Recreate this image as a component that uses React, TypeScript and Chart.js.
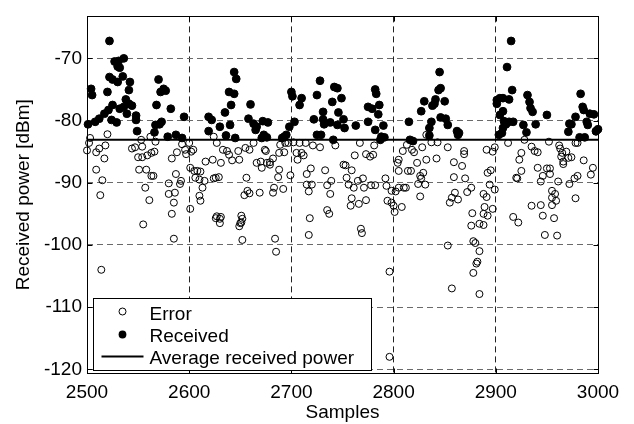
import { useEffect, useRef } from "react";
import { Chart, registerables } from "chart.js";

Chart.register(...registerables);

// ---- data ----
const receivedPoints: [number, number][] = [
  [2501,-80.6],[2504,-74.9],[2505,-75.9],[2508,-80.2],[2512,-79.7],[2517,-78.9],[2520,-75.4],[2521,-78.3],[2522,-67.2],[2522,-73.0],
  [2524,-79.9],[2525,-73.4],[2525,-77.5],[2527,-70.5],[2529,-80.3],[2530,-73.8],[2530,-71.3],[2531,-70.4],[2532,-71.5],[2532,-78.1],
  [2535,-72.9],[2536,-70.0],[2536,-77.8],[2538,-76.6],[2539,-78.9],[2541,-75.1],[2541,-77.3],[2542,-73.8],[2544,-77.6],[2548,-79.2],
  [2548,-79.9],[2549,-81.7],[2566,-81.9],[2567,-80.7],[2568,-77.5],[2570,-73.4],[2571,-80.6],[2572,-75.4],[2573,-80.2],[2575,-74.9],
  [2577,-75.2],[2579,-82.6],[2582,-78.1],[2587,-82.3],[2593,-82.8],[2595,-79.4],[2619,-79.4],[2619,-81.7],[2622,-79.9],[2630,-81.0],
  [2635,-78.7],[2636,-82.4],[2639,-75.4],[2640,-80.7],[2641,-77.5],[2644,-72.2],[2644,-75.7],[2645,-82.8],[2646,-73.3],[2658,-79.7],
  [2660,-77.4],[2663,-80.5],[2665,-81.5],[2666,-81.0],[2671,-82.8],[2672,-80.1],[2673,-82.3],[2676,-82.7],[2677,-80.3],[2691,-82.8],
  [2693,-82.6],[2695,-82.3],[2698,-81.0],[2700,-75.4],[2701,-76.1],[2703,-80.2],[2708,-77.5],[2710,-76.4],[2722,-79.8],[2725,-75.9],
  [2725,-82.3],[2728,-73.6],[2729,-82.3],[2731,-78.6],[2731,-79.8],[2732,-80.6],[2738,-80.3],[2740,-77.0],[2741,-83.1],[2742,-74.6],
  [2745,-74.8],[2745,-80.7],[2746,-78.7],[2749,-76.4],[2751,-79.8],[2752,-81.2],[2763,-80.8],[2775,-77.8],[2775,-80.2],[2779,-78.1],
  [2782,-75.0],[2782,-81.5],[2783,-75.7],[2785,-79.0],[2786,-77.5],[2787,-83.1],[2788,-82.6],[2790,-80.8],[2791,-82.7],[2815,-80.2],
  [2816,-83.1],[2819,-83.3],[2827,-78.5],[2830,-76.9],[2835,-81.2],[2835,-82.4],[2837,-80.2],[2838,-77.6],[2840,-77.3],[2841,-76.6],
  [2844,-75.1],[2845,-72.2],[2846,-74.8],[2846,-79.5],[2850,-76.9],[2851,-79.7],[2853,-80.7],[2862,-81.7],[2863,-82.3],[2864,-82.0],
  [2901,-76.7],[2901,-77.3],[2903,-82.3],[2904,-76.4],[2904,-79.1],[2906,-82.0],[2907,-76.4],[2907,-78.5],[2907,-81.2],[2908,-80.1],
  [2910,-80.6],[2911,-71.4],[2913,-76.6],[2913,-80.2],[2915,-67.2],[2916,-75.1],[2917,-80.2],[2927,-80.7],[2930,-81.9],[2931,-75.9],
  [2933,-77.0],[2934,-78.0],[2936,-78.6],[2939,-80.6],[2950,-79.1],[2971,-81.8],[2972,-80.5],[2974,-80.6],[2978,-79.4],[2982,-82.7],
  [2983,-75.7],[2985,-77.8],[2986,-78.3],[2987,-82.7],[2989,-80.2],[2990,-80.7],[2992,-78.9],[2996,-79.0],[2998,-81.7],[3000,-81.4],
];

const errorPoints: [number, number][] = [
  [2500,-84.8],[2502,-83.6],[2503,-82.8],[2509,-85.1],[2509,-87.9],[2512,-84.5],[2513,-92.0],[2514,-104.0],[2515,-89.6],[2517,-86.1],
  [2518,-84.0],[2520,-82.2],[2544,-84.5],[2547,-84.3],[2550,-85.9],[2551,-87.9],[2553,-83.1],[2554,-84.2],[2554,-85.9],[2555,-96.7],
  [2557,-90.8],[2558,-87.9],[2559,-85.6],[2561,-92.8],[2562,-82.6],[2563,-85.2],[2563,-88.9],[2565,-88.9],[2566,-85.0],[2567,-83.4],
  [2580,-90.1],[2580,-91.8],[2583,-86.1],[2583,-95.0],[2585,-93.2],[2585,-99.0],[2586,-91.6],[2587,-88.6],[2588,-85.1],[2591,-90.2],
  [2592,-89.7],[2593,-83.8],[2596,-84.7],[2597,-85.4],[2600,-83.6],[2601,-87.6],[2601,-94.2],[2602,-85.0],[2604,-84.7],[2605,-88.1],
  [2606,-89.2],[2608,-88.1],[2610,-89.5],[2610,-92.1],[2611,-88.2],[2611,-92.9],[2613,-90.8],[2615,-89.7],[2616,-86.6],[2623,-86.3],
  [2624,-82.6],[2624,-89.3],[2626,-95.7],[2626,-89.2],[2627,-83.6],[2627,-95.4],[2629,-89.1],[2630,-95.8],[2630,-96.5],[2631,-86.8],
  [2631,-95.5],[2633,-84.7],[2637,-84.9],[2639,-85.5],[2642,-86.4],[2648,-84.9],[2649,-86.3],[2649,-97.0],[2650,-96.5],[2651,-95.3],
  [2651,-96.4],[2652,-95.8],[2652,-99.2],[2654,-92.0],[2655,-84.4],[2656,-89.2],[2657,-91.3],[2659,-84.7],[2659,-91.7],[2663,-83.6],
  [2666,-86.8],[2669,-91.6],[2670,-86.6],[2671,-87.6],[2674,-84.7],[2675,-84.9],[2676,-86.8],[2679,-86.7],[2679,-87.1],[2682,-86.1],
  [2682,-91.6],[2683,-90.8],[2684,-99.0],[2685,-101.1],[2687,-89.1],[2688,-85.2],[2688,-87.9],[2689,-83.9],[2692,-91.0],[2693,-85.1],
  [2694,-83.6],[2697,-83.6],[2699,-88.8],[2702,-83.5],[2705,-85.2],[2706,-86.3],[2708,-83.6],[2710,-85.2],[2712,-85.6],[2714,-83.6],
  [2715,-88.6],[2715,-90.3],[2717,-91.4],[2717,-98.4],[2718,-95.7],[2719,-87.7],[2720,-90.3],[2721,-84.0],[2728,-84.3],[2733,-88.0],
  [2735,-90.4],[2735,-94.4],[2737,-95.0],[2738,-91.8],[2739,-89.7],[2743,-84.0],[2751,-87.1],[2753,-87.2],[2754,-89.2],[2756,-90.3],
  [2758,-93.7],[2759,-88.0],[2759,-92.5],[2761,-90.8],[2762,-85.6],[2765,-89.7],[2766,-93.4],[2767,-83.6],[2768,-97.4],[2769,-98.1],
  [2770,-89.3],[2771,-90.8],[2773,-85.4],[2773,-92.8],[2777,-85.8],[2778,-90.4],[2780,-85.5],[2781,-84.0],[2782,-90.4],[2792,-89.3],
  [2793,-90.5],[2794,-92.9],[2796,-104.3],[2796,-118.0],[2798,-91.3],[2798,-93.2],[2800,-93.7],[2801,-94.7],[2802,-91.4],[2804,-86.8],
  [2805,-86.3],[2805,-88.1],[2805,-90.8],[2808,-93.9],[2809,-84.9],[2810,-90.8],[2812,-90.8],[2813,-83.9],[2814,-88.1],[2817,-88.1],
  [2818,-84.7],[2820,-85.1],[2823,-86.8],[2824,-90.2],[2826,-88.9],[2826,-92.2],[2827,-89.3],[2828,-84.3],[2829,-88.4],[2831,-90.3],
  [2832,-82.3],[2832,-86.3],[2837,-83.5],[2842,-86.1],[2843,-83.5],[2853,-84.3],[2853,-100.1],[2855,-93.2],[2857,-92.4],[2857,-107.0],
  [2859,-86.7],[2859,-89.1],[2860,-91.6],[2863,-92.7],[2867,-87.3],[2869,-84.9],[2869,-85.4],[2870,-89.3],[2872,-91.5],[2876,-90.8],
  [2876,-96.9],[2877,-94.9],[2878,-99.4],[2878,-104.5],[2880,-99.7],[2881,-103.0],[2882,-102.7],[2884,-96.6],[2884,-101.0],[2884,-107.9],
  [2888,-91.8],[2888,-95.0],[2888,-96.8],[2889,-93.9],[2891,-84.7],[2891,-92.3],[2892,-88.4],[2892,-95.3],[2894,-90.3],[2895,-88.0],
  [2897,-85.0],[2897,-94.2],[2899,-84.3],[2899,-91.1],[2912,-83.6],[2917,-95.5],[2920,-89.2],[2921,-89.3],[2922,-96.4],[2923,-86.3],
  [2925,-85.2],[2925,-88.1],[2928,-83.1],[2935,-84.2],[2935,-93.7],[2938,-84.9],[2941,-85.1],[2941,-87.6],[2944,-89.8],[2944,-93.6],
  [2946,-88.9],[2946,-95.3],[2948,-98.4],[2950,-87.7],[2952,-83.4],[2953,-87.7],[2953,-88.6],[2955,-91.3],[2955,-92.4],[2955,-93.6],
  [2957,-95.7],[2958,-91.8],[2959,-92.9],[2960,-98.5],[2961,-89.8],[2962,-84.0],[2963,-84.5],[2964,-85.8],[2965,-85.2],[2966,-86.6],
  [2966,-87.0],[2969,-85.0],[2971,-86.0],[2972,-90.2],[2974,-85.9],[2977,-89.3],[2978,-83.6],[2978,-92.5],[2980,-83.6],[2980,-88.9],
  [2986,-86.4],[2993,-88.7],[2995,-87.6],[2998,-81.8],
];

const averagePower = -83.1;
const sampleRange = [2500, 3000];
const powerRange = [-120.6, -63.25];
const xTicks = [2500, 2600, 2700, 2800, 2900, 3000];
const yTicks = [-120, -110, -100, -90, -80, -70];
const seriesLabels = ["Error", "Received", "Average received power"];
const xTitle = "Samples";
const yTitle = "Received power [dBm]";

const FONT = "'Liberation Sans', Arial, Helvetica, sans-serif";
const FS = 19;
const ERR_R = 3.5;
const REC_R = 3.9;

const framePlugin = {
  id: "frame",
  afterDatasetsDraw(chart: any) {
    const { ctx, chartArea: a, scales } = chart;
    ctx.save();
    ctx.strokeStyle = "#000";
    ctx.lineWidth = 1;
    const l = Math.round(a.left) + 0.5, t = Math.round(a.top) + 0.5;
    const r = Math.round(a.right) + 0.5, b = Math.round(a.bottom) + 0.5;
    ctx.strokeRect(l, t, r - l, b - t);
    const L = 5;
    ctx.beginPath();
    xTicks.forEach((v) => {
      const x = Math.round(scales.x.getPixelForValue(v)) + 0.5;
      ctx.moveTo(x, b); ctx.lineTo(x, b - L);
      ctx.moveTo(x, t); ctx.lineTo(x, t + L);
    });
    yTicks.forEach((v) => {
      const y = Math.round(scales.y.getPixelForValue(v)) + 0.5;
      ctx.moveTo(l, y); ctx.lineTo(l + L, y);
      ctx.moveTo(r, y); ctx.lineTo(r - L, y);
    });
    ctx.stroke();
    ctx.restore();
  },
  afterDraw(chart: any) {
    const { ctx, chartArea: a } = chart;
    ctx.save();
    const x0 = Math.round(a.left) + 6.5;
    const y1 = Math.round(a.bottom) - 2.5;
    const w = 278, h = 72;
    const y0 = y1 - h;
    ctx.fillStyle = "#fff";
    ctx.fillRect(x0, y0, w, h);
    ctx.strokeStyle = "#000";
    ctx.lineWidth = 1;
    ctx.strokeRect(x0, y0, w, h);
    const mx = x0 + 29;
    const rows = [y0 + 13, y0 + 36, y0 + 58];
    ctx.beginPath();
    ctx.arc(mx, rows[0], ERR_R, 0, Math.PI * 2);
    ctx.stroke();
    ctx.beginPath();
    ctx.fillStyle = "#000";
    ctx.arc(mx, rows[1], REC_R, 0, Math.PI * 2);
    ctx.fill();
    ctx.beginPath();
    ctx.lineWidth = 2;
    ctx.moveTo(x0 + 8, rows[2]);
    ctx.lineTo(x0 + 50, rows[2]);
    ctx.stroke();
    ctx.fillStyle = "#000";
    ctx.font = `${FS}px ${FONT}`;
    ctx.textBaseline = "alphabetic";
    ctx.textAlign = "left";
    const tx = x0 + 56;
    ctx.fillText(seriesLabels[0], tx, rows[0] + 8);
    ctx.fillText(seriesLabels[1], tx, rows[1] + 7.5);
    ctx.fillText(seriesLabels[2], tx, rows[2] + 7);
    ctx.restore();
  },
};

export default function App() {
  const ref = useRef<HTMLCanvasElement | null>(null);
  useEffect(() => {
    if (!ref.current) return;
    const toXY = (p: [number, number]) => ({ x: p[0], y: p[1] });
    const chart = new Chart(ref.current, {
      type: "scatter",
      data: {
        datasets: [
          {
            type: "line",
            label: seriesLabels[2],
            data: sampleRange.map((x) => ({ x, y: averagePower })),
            borderColor: "#000",
            borderWidth: 2,
            pointRadius: 0,
            fill: false,
          } as any,
          {
            label: seriesLabels[1],
            data: receivedPoints.map(toXY),
            pointStyle: "circle",
            pointRadius: REC_R,
            backgroundColor: "#000",
            borderColor: "#000",
            borderWidth: 1,
            clip: false,
          } as any,
          {
            label: seriesLabels[0],
            data: errorPoints.map(toXY),
            pointStyle: "circle",
            pointRadius: ERR_R,
            backgroundColor: "rgba(0,0,0,0)",
            borderColor: "#000",
            borderWidth: 1,
            clip: false,
          } as any,
        ],
      },
      options: {
        responsive: false,
        animation: false,
        events: [],
        layout: { padding: { top: 10, right: 36, bottom: 0, left: 0 } },
        plugins: { legend: { display: false }, tooltip: { enabled: false } },
        scales: {
          x: {
            type: "linear",
            min: sampleRange[0],
            max: sampleRange[1],
            afterBuildTicks: (s: any) => { s.ticks = xTicks.map((v) => ({ value: v })); },
            afterFit: (s: any) => { s.height = 51; },
            grid: { color: "#222", lineWidth: 1, drawTicks: false },
            border: { display: false, dash: [6, 4] },
            ticks: {
              padding: 8,
              color: "#000",
              font: { family: FONT, size: FS },
              maxRotation: 0,
              callback: (v: any) => String(v),
            },
            title: {
              display: true,
              text: xTitle,
              color: "#000",
              font: { family: FONT, size: FS },
              padding: { top: 0, bottom: 0 },
            },
          },
          y: {
            type: "linear",
            min: powerRange[0],
            max: powerRange[1],
            afterBuildTicks: (s: any) => { s.ticks = yTicks.map((v) => ({ value: v })); },
            afterFit: (s: any) => { s.width = 87; },
            grid: { color: "#6a6a6a", lineWidth: 1, drawTicks: false },
            border: { display: false, dash: [6, 4] },
            ticks: {
              padding: 5,
              color: "#000",
              font: { family: FONT, size: FS },
              callback: (v: any) => String(v),
            },
            title: {
              display: true,
              text: yTitle,
              color: "#000",
              font: { family: FONT, size: FS },
              padding: { top: 12, bottom: 0 },
            },
          },
        },
      } as any,
      plugins: [framePlugin],
    });
    return () => chart.destroy();
  }, []);
  return (
    <div style={{ position: "absolute", left: 0, top: 0, width: 634, height: 424, background: "#fff" }}>
      <canvas ref={ref} width={634} height={424} />
    </div>
  );
}
